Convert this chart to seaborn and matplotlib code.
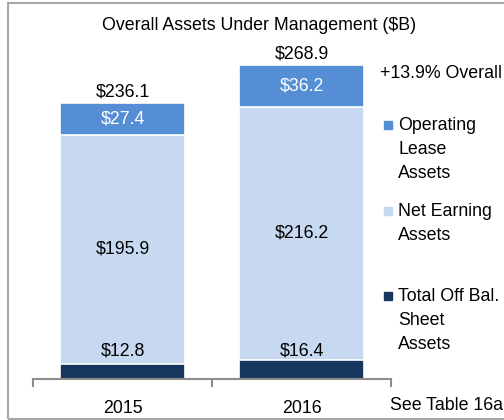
import pandas as pd
import matplotlib.pyplot as plt
import matplotlib.patches as mpatches
import seaborn as sns

# Chart values ($B)
years = ['2015', '2016']
off_balance = [12.8, 16.4]
net_earning = [195.9, 216.2]
operating_lease = [27.4, 36.2]
totals = [236.1, 268.9]
growth_label = '+13.9% Overall'

sns.set_style('white')
plt.rcParams['font.family'] = ['Liberation Sans', 'DejaVu Sans']
plt.rcParams['text.color'] = 'black'
plt.rcParams['xtick.color'] = 'black'

c_oper = '#558ED5'
c_net = '#C6D9F1'
c_off = '#17375E'
c_axis = '#8C8C8C'
fs = 12.8

df = pd.DataFrame({'year': years, 'off': off_balance, 'net': net_earning,
                   'oper': operating_lease, 'total': totals})
df['off_net'] = df['off'] + df['net']
df['stack_top'] = df['off_net'] + df['oper']

fig = plt.figure(figsize=(5.04, 4.2), dpi=100)
ax = fig.add_axes([33 / 504, 41 / 420, 358 / 504, 351 / 420])

# stacked bars drawn as overlapping cumulative layers
sns.barplot(data=df, x='year', y='stack_top', color=c_oper, width=0.7,
            edgecolor='white', linewidth=1.2, saturation=1, ax=ax)
sns.barplot(data=df, x='year', y='off_net', color=c_net, width=0.7,
            edgecolor='white', linewidth=1.2, saturation=1, ax=ax)
sns.barplot(data=df, x='year', y='off', color=c_off, width=0.7,
            edgecolor='white', linewidth=1.2, saturation=1, ax=ax)

ax.set_xlim(-0.5, 1.5)
ax.set_ylim(0, 300)
ax.set_xlabel('')
ax.set_ylabel('')
ax.set_yticks([])
for s in ['top', 'left', 'right']:
    ax.spines[s].set_visible(False)
ax.spines['bottom'].set_color(c_axis)
ax.spines['bottom'].set_linewidth(1.5)
ax.set_xticks([-0.5, 0.5, 1.5], minor=True)
ax.tick_params(axis='x', which='minor', bottom=True, length=6, width=1.5,
               color=c_axis, direction='out')
ax.tick_params(axis='x', which='major', length=0, pad=15, labelsize=fs, labelcolor='black')

# value labels
for i, row in df.iterrows():
    ax.text(i, row['stack_top'] + 2, f"${row['total']:.1f}", ha='center', va='bottom', fontsize=fs)
    ax.text(i, row['off_net'] + row['oper'] / 2, f"${row['oper']:.1f}", ha='center', va='center',
            fontsize=fs, color='white')
    ax.text(i, row['off'] + row['net'] / 2, f"${row['net']:.1f}", ha='center', va='center', fontsize=fs)
    ax.text(i, 24, f"${row['off']:.1f}", ha='center', va='center', fontsize=fs)

fig.text(259.5 / 504, 1 - 26 / 420, 'Overall Assets Under Management ($B)',
         ha='center', va='center', fontsize=fs)
fig.text(380 / 504, 1 - 73 / 420, growth_label, ha='left', va='center', fontsize=fs)
fig.text(390 / 504, 1 - 405 / 420, 'See Table 16a', ha='left', va='center', fontsize=fs)

# legend
legend_items = [('Operating\nLease\nAssets', c_oper, 125),
                ('Net Earning\nAssets', c_net, 211),
                ('Total Off Bal.\nSheet\nAssets', c_off, 296)]
for label, col, ypx in legend_items:
    fig.patches.append(mpatches.Rectangle((384 / 504, 1 - (ypx + 4) / 420), 8 / 504, 8 / 420,
                                          transform=fig.transFigure, color=col, figure=fig))
    fig.text(398 / 504, 1 - (ypx - 8) / 420, label, ha='left', va='top',
             fontsize=fs, linespacing=1.52)

# outer frame
fig.patches.append(mpatches.Rectangle((7.5 / 504, 1.5 / 420), 520 / 504, 416 / 420,
                                      transform=fig.transFigure, fill=False,
                                      edgecolor='#A6A6A6', linewidth=1.5, figure=fig))

fig.savefig('out.png', dpi=100)
